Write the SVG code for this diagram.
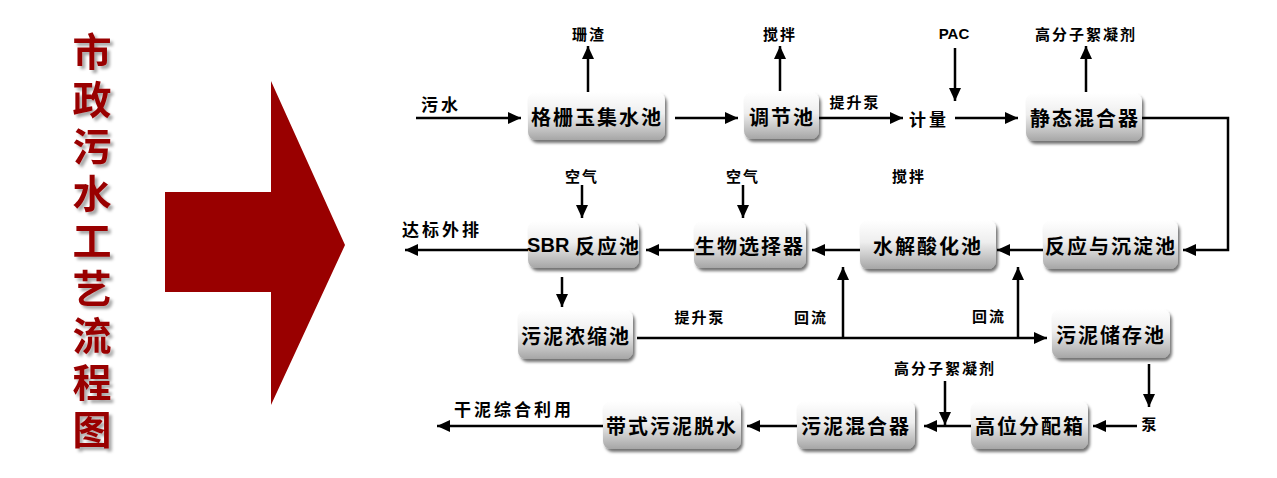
<svg xmlns="http://www.w3.org/2000/svg" width="1277" height="478" viewBox="0 0 1277 478">
<style>
.node rect{fill:url(#g);filter:url(#sh)}
.node text{font-family:"Noto Sans CJK SC","Liberation Sans",sans-serif;font-size:20px;font-weight:bold;fill:#000;text-anchor:middle;dominant-baseline:central;letter-spacing:2px}
.lbl{font-family:"Noto Sans CJK SC","Liberation Sans",sans-serif;font-size:15px;font-weight:bold;fill:#000;text-anchor:middle;dominant-baseline:central;letter-spacing:2px}
.big{font-size:17px;letter-spacing:3px}
#connectors path,#connectors line{stroke:#000;stroke-width:2.5;fill:none}
.a{marker-end:url(#ah)}
.title{font-family:"Noto Sans CJK SC",serif;font-size:39px;font-weight:bold;fill:#990000;writing-mode:vertical-rl;letter-spacing:8.25px;filter:url(#tsh)}
</style>
<defs>
<linearGradient id="g" x1="0" y1="0" x2="0" y2="1">
<stop offset="0" stop-color="#ffffff"/>
<stop offset="0.45" stop-color="#eeeeee"/>
<stop offset="1" stop-color="#a6a6a6"/>
</linearGradient>
<filter id="sh" x="-10%" y="-10%" width="130%" height="140%">
<feDropShadow dx="2" dy="3" stdDeviation="1.5" flood-color="#000" flood-opacity="0.55"/>
</filter>
<filter id="tsh" x="-20%" y="-20%" width="150%" height="150%">
<feDropShadow dx="3" dy="3" stdDeviation="1.5" flood-color="#000" flood-opacity="0.35"/>
</filter>
<marker id="ah" markerUnits="userSpaceOnUse" markerWidth="14" markerHeight="12" refX="13" refY="6" orient="auto">
<path d="M0,0 L13,6 L0,12 z" fill="#000"/>
</marker>
</defs>
<rect width="1277" height="478" fill="#fff"/>
<g id="title-arrow">
<polygon points="165,192 271,192 271,81 345,245 271,405 271,292 165,292" fill="#990000"/>
</g>
<g id="title">
<text class="title" x="92" y="32">市政污水工艺流程图</text>
</g>
<g id="connectors">
<line class="a" x1="416" y1="118" x2="521" y2="118"/>
<line class="a" x1="675" y1="118" x2="738" y2="118"/>
<line class="a" x1="588" y1="92" x2="588" y2="46"/>
<line class="a" x1="780" y1="91" x2="780" y2="46"/>
<line class="a" x1="819" y1="118" x2="903" y2="118"/>
<line class="a" x1="955" y1="48" x2="955" y2="101"/>
<line class="a" x1="955" y1="118" x2="1018" y2="118"/>
<line class="a" x1="1086" y1="92" x2="1086" y2="46"/>
<path class="a" d="M1142,118 H1228 V250 H1183"/>
<line class="a" x1="1043" y1="250" x2="997" y2="250"/>
<line class="a" x1="860" y1="250" x2="812" y2="250"/>
<line class="a" x1="694" y1="250" x2="646" y2="250"/>
<line class="a" x1="528" y1="250" x2="405" y2="250"/>
<line class="a" x1="582" y1="185" x2="582" y2="218"/>
<line class="a" x1="743" y1="185" x2="743" y2="218"/>
<line class="a" x1="562" y1="277" x2="562" y2="307"/>
<line class="a" x1="637" y1="338" x2="1047" y2="338"/>
<line class="a" x1="843" y1="338" x2="843" y2="267"/>
<line class="a" x1="1018" y1="338" x2="1018" y2="267"/>
<line class="a" x1="1149" y1="364" x2="1149" y2="407"/>
<line class="a" x1="1137" y1="426" x2="1093" y2="426"/>
<line class="a" x1="971" y1="426" x2="924" y2="426"/>
<line class="a" x1="945" y1="381" x2="945" y2="425"/>
<line class="a" x1="797" y1="426" x2="747" y2="426"/>
<line class="a" x1="603" y1="426" x2="437" y2="426"/>
</g>
<g id="labels">
<text class="lbl big" x="441" y="103">污水</text>
<text class="lbl" x="589" y="33">珊渣</text>
<text class="lbl" x="780" y="33">搅拌</text>
<text class="lbl" x="855" y="101">提升泵</text>
<text class="lbl big" x="929" y="118">计量</text>
<text class="lbl" x="954" y="33" style="font-family:'Liberation Sans',sans-serif;letter-spacing:0">PAC</text>
<text class="lbl" x="1086" y="33">高分子絮凝剂</text>
<text class="lbl" x="582" y="175">空气</text>
<text class="lbl" x="743" y="175">空气</text>
<text class="lbl" x="909" y="175">搅拌</text>
<text class="lbl big" x="442" y="228">达标外排</text>
<text class="lbl" x="700" y="316">提升泵</text>
<text class="lbl" x="811" y="316">回流</text>
<text class="lbl" x="989" y="315">回流</text>
<text class="lbl" x="945" y="367">高分子絮凝剂</text>
<text class="lbl" x="1150" y="423">泵</text>
<text class="lbl big" x="514" y="408">干泥综合利用</text>
</g>
<g id="n1" class="node"><rect x="528" y="92" width="137" height="48" rx="8"/><text x="597" y="116">格栅玉集水池</text></g>
<g id="n2" class="node"><rect x="744" y="92" width="75" height="47" rx="8"/><text x="782" y="116">调节池</text></g>
<g id="n3" class="node"><rect x="1026" y="93" width="116" height="48" rx="8"/><text x="1085" y="117">静态混合器</text></g>
<g id="n4" class="node"><rect x="1043" y="220" width="135" height="49" rx="8"/><text x="1111" y="245">反应与沉淀池</text></g>
<g id="n5" class="node"><rect x="860" y="220" width="136" height="49" rx="8"/><text x="928" y="245">水解酸化池</text></g>
<g id="n6" class="node"><rect x="694" y="221" width="112" height="47" rx="8"/><text x="750" y="245">生物选择器</text></g>
<g id="n7" class="node"><rect x="528" y="221" width="111" height="47" rx="8"/><text x="584" y="245"><tspan style="font-family:'Liberation Sans',sans-serif;letter-spacing:0">SBR </tspan>反应池</text></g>
<g id="n8" class="node"><rect x="518" y="310" width="115" height="49" rx="8"/><text x="576" y="335">污泥浓缩池</text></g>
<g id="n9" class="node"><rect x="1052" y="309" width="118" height="49" rx="8"/><text x="1111" y="334">污泥储存池</text></g>
<g id="n10" class="node"><rect x="971" y="401" width="117" height="48" rx="8"/><text x="1030" y="425">高位分配箱</text></g>
<g id="n11" class="node"><rect x="797" y="401" width="118" height="48" rx="8"/><text x="856" y="425">污泥混合器</text></g>
<g id="n12" class="node"><rect x="603" y="401" width="138" height="48" rx="8"/><text x="672" y="425">带式污泥脱水</text></g>
</svg>
